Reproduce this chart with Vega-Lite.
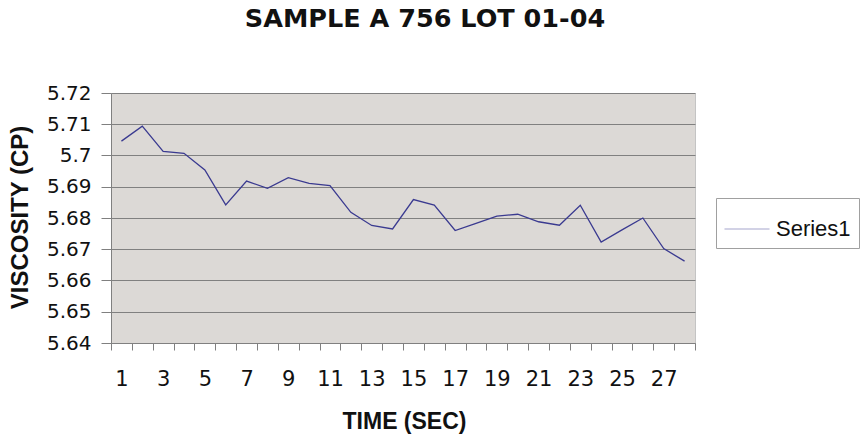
{
  "$schema": "https://vega.github.io/schema/vega-lite/v6.json",
  "width": 584,
  "height": 250,
  "autosize": {"type": "none"},
  "padding": {"left": 111, "top": 93, "right": 165, "bottom": 96},
  "background": "white",
  "title": {
    "text": "SAMPLE A 756 LOT 01-04",
    "font": "DejaVu Sans",
    "fontSize": 25.5,
    "fontWeight": "bold",
    "color": "#111111",
    "anchor": "middle",
    "frame": "group",
    "baseline": "alphabetic",
    "dx": 22,
    "offset": 31
  },
  "config": {
    "view": {"fill": "#DCD9D6", "stroke": "#C4C4C4", "strokeWidth": 1},
    "axis": {"domainColor": "#808080", "tickColor": "#808080", "labelColor": "#111111", "titleColor": "#111111"}
  },
  "data": {
    "values": [
      {"time": 1, "viscosity": 5.7046, "series": "Series1"},
      {"time": 2, "viscosity": 5.7094, "series": "Series1"},
      {"time": 3, "viscosity": 5.7013, "series": "Series1"},
      {"time": 4, "viscosity": 5.7007, "series": "Series1"},
      {"time": 5, "viscosity": 5.6954, "series": "Series1"},
      {"time": 6, "viscosity": 5.6842, "series": "Series1"},
      {"time": 7, "viscosity": 5.6918, "series": "Series1"},
      {"time": 8, "viscosity": 5.6895, "series": "Series1"},
      {"time": 9, "viscosity": 5.6929, "series": "Series1"},
      {"time": 10, "viscosity": 5.6911, "series": "Series1"},
      {"time": 11, "viscosity": 5.6904, "series": "Series1"},
      {"time": 12, "viscosity": 5.6818, "series": "Series1"},
      {"time": 13, "viscosity": 5.6776, "series": "Series1"},
      {"time": 14, "viscosity": 5.6765, "series": "Series1"},
      {"time": 15, "viscosity": 5.6859, "series": "Series1"},
      {"time": 16, "viscosity": 5.6841, "series": "Series1"},
      {"time": 17, "viscosity": 5.676, "series": "Series1"},
      {"time": 18, "viscosity": 5.6783, "series": "Series1"},
      {"time": 19, "viscosity": 5.6806, "series": "Series1"},
      {"time": 20, "viscosity": 5.6812, "series": "Series1"},
      {"time": 21, "viscosity": 5.6788, "series": "Series1"},
      {"time": 22, "viscosity": 5.6777, "series": "Series1"},
      {"time": 23, "viscosity": 5.6841, "series": "Series1"},
      {"time": 24, "viscosity": 5.6723, "series": "Series1"},
      {"time": 25, "viscosity": 5.6762, "series": "Series1"},
      {"time": 26, "viscosity": 5.68, "series": "Series1"},
      {"time": 27, "viscosity": 5.6702, "series": "Series1"},
      {"time": 28, "viscosity": 5.6662, "series": "Series1"}
    ]
  },
  "mark": {"type": "line", "strokeWidth": 1.3},
  "encoding": {
    "x": {
      "field": "time",
      "type": "quantitative",
      "scale": {"domain": [0.5, 28.5], "nice": false, "zero": false},
      "axis": {
        "title": "TIME (SEC)",
        "titleFont": "Liberation Sans",
        "titleFontSize": 23,
        "titleFontWeight": "bold",
        "titleBaseline": "alphabetic",
        "titleX": 293,
        "titleY": 85,
        "titleAnchor": "middle",
        "grid": false,
        "values": [0.5, 1, 1.5, 2.5, 3, 3.5, 4.5, 5, 5.5, 6.5, 7, 7.5, 8.5, 9, 9.5, 10.5, 11, 11.5, 12.5, 13, 13.5, 14.5, 15, 15.5, 16.5, 17, 17.5, 18.5, 19, 19.5, 20.5, 21, 21.5, 22.5, 23, 23.5, 24.5, 25, 25.5, 26.5, 27, 27.5, 28.5],
        "labelExpr": "datum.value % 1 == 0 ? format(datum.value, 'd') : ''",
        "labelFont": "DejaVu Sans",
        "labelFontSize": 21,
        "labelBaseline": "alphabetic",
        "labelPadding": 35,
        "labelOverlap": false,
        "labelFlush": false,
        "tickSize": 7,
        "tickOpacity": {"condition": {"test": "datum.value % 1 != 0", "value": 1}, "value": 0}
      }
    },
    "y": {
      "field": "viscosity",
      "type": "quantitative",
      "scale": {"domain": [5.64, 5.72], "nice": false, "zero": false},
      "axis": {
        "title": "VISCOSITY (CP)",
        "titleFont": "Liberation Sans",
        "titleFontSize": 24,
        "titleFontWeight": "bold",
        "titleAngle": 270,
        "titleBaseline": "alphabetic",
        "titleAlign": "center",
        "titleX": -84,
        "titleY": 124,
        "values": [5.64, 5.65, 5.66, 5.67, 5.68, 5.69, 5.7, 5.71, 5.72],
        "labelExpr": "format(datum.value, '.2~f')",
        "labelFont": "DejaVu Sans",
        "labelFontSize": 20,
        "labelPadding": 10,
        "tickSize": 10,
        "grid": true,
        "gridColor": "#808080",
        "gridWidth": 1
      }
    },
    "color": {
      "field": "series",
      "type": "nominal",
      "scale": {"range": ["#3A3A90"]},
      "legend": {
        "title": null,
        "orient": "none",
        "legendX": 605,
        "legendY": 105,
        "padding": 8,
        "strokeColor": "#A0A0A0",
        "fillColor": "white",
        "symbolType": "stroke",
        "symbolSize": 2025,
        "symbolStrokeWidth": 1,
        "symbolOpacity": 0.45,
        "labelFont": "Liberation Sans",
        "labelFontSize": 22,
        "labelColor": "#111111",
        "labelOffset": 6
      }
    }
  }
}
